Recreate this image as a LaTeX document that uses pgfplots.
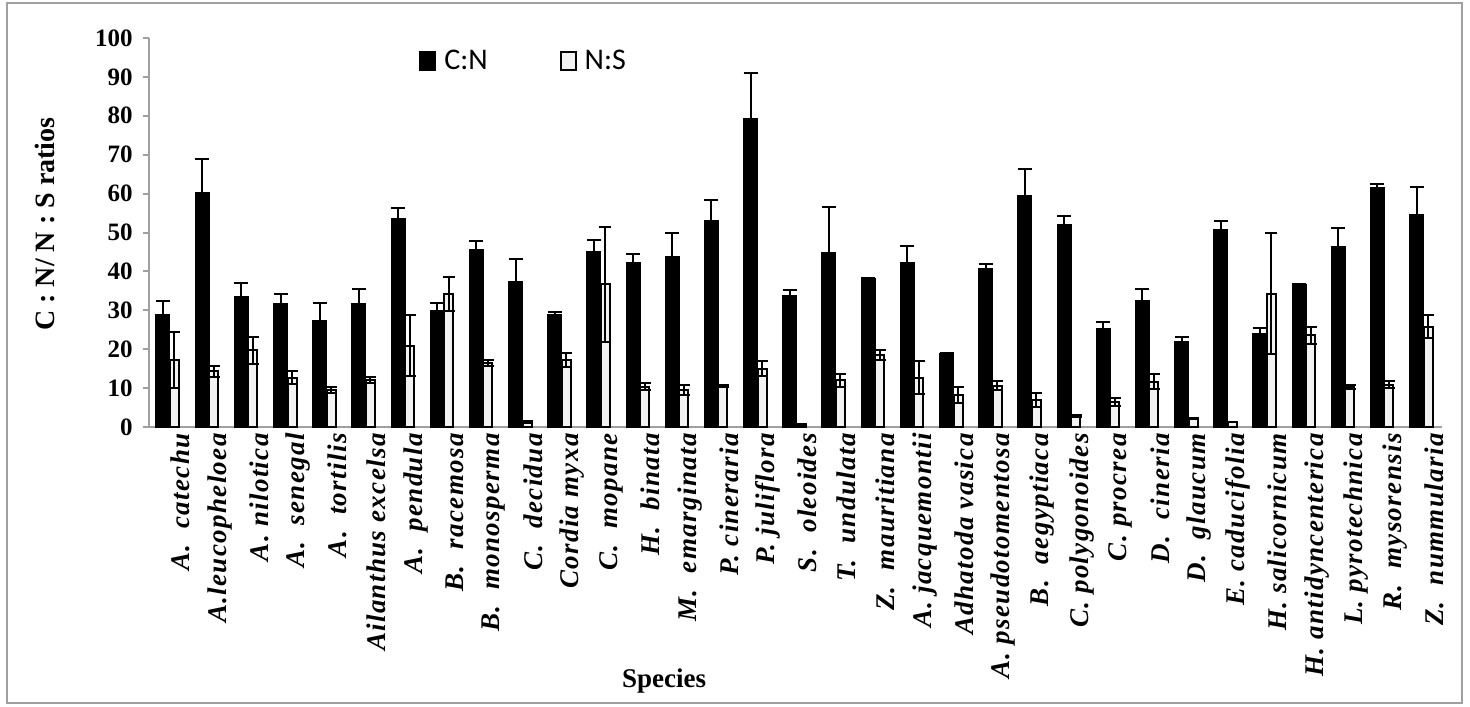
\documentclass[border=0pt]{standalone}
\usepackage{pgfplots}
\pgfplotsset{compat=1.18}
\usepackage{pgfplotstable}
\usepackage{fontspec}
\setmainfont{Liberation Serif}
\newfontfamily\calibri{Carlito}
\newfontfamily\xlabfont[LetterSpace=5]{Liberation Serif}
\definecolor{axgray}{HTML}{A0A0A0}
\definecolor{nsfill}{HTML}{F2F2F2}

\pgfplotstableread{
x cn cnerr ns nserr
0 28.8 3.6 17.2 7.3
1 60.3 8.5 14.3 1.4
2 33.6 3.3 19.7 3.4
3 31.8 2.5 12.7 1.7
4 27.3 4.5 9.6 0.8
5 31.8 3.8 12.0 0.8
6 53.6 2.8 20.9 7.9
7 30.0 1.8 34.1 4.4
8 45.7 2.2 16.5 0.8
9 37.3 5.8 1.3 0.2
10 28.8 0.8 17.2 1.9
11 45.0 3.2 36.7 14.8
12 42.4 2.1 10.3 0.9
13 43.8 6.0 9.4 1.3
14 53.2 5.2 10.5 0.2
15 79.4 11.6 15.0 2.0
16 33.7 1.5 0.6 0.1
17 44.9 11.6 12.0 1.7
18 38.3 0.1 18.5 1.3
19 42.4 4.2 12.7 4.3
20 18.9 0.1 8.2 2.1
21 40.7 1.2 10.6 1.2
22 59.5 6.8 7.0 1.8
23 52.1 2.1 2.8 0.2
24 25.2 1.7 6.4 1.0
25 32.6 3.0 11.6 1.9
26 22.1 1.0 2.1 0.1
27 50.9 2.1 1.3 0.1
28 24.0 1.5 34.3 15.5
29 36.7 0.1 23.6 2.2
30 46.4 4.8 10.3 0.5
31 61.6 0.9 10.9 0.9
32 54.7 7.1 25.8 3.0
}\datatable

\begin{document}
\begin{tikzpicture}
\begin{axis}[
  at={(74.5pt,-213.5pt)}, anchor=south west,
  scale only axis, width=646.4pt, height=194.5pt,
  xmin=-0.5, xmax=32.5, ymin=0, ymax=100,
  ytick={0,10,...,100},
  xtick={0,...,32},
  minor xtick={-0.5,0.5,...,32.5},
  xticklabels={A. \ catechu, A.leucopheloea, A. nilotica, A. \ senegal, A. \ tortilis, Ailanthus excelsa, A. \ pendula, B. \ racemosa, B. \ monosperma, C. \ decidua, Cordia myxa, C. \ mopane, H. \ binata, M. \ emarginata, P. cineraria, P. juliflora, S. \ oleoides, T. \ undulata, Z. \ mauritiana, A. jacquemontii, Adhatoda vasica, A. pseudotomentosa, B. \ aegyptiaca, C. polygonoides, C. procrea, D. \ cineria, D. \ glaucum, E. caducifolia, H. salicornicum, H. antidyncenterica, L. pyrotechnica, R. \ mysorensis, Z. \ nummularia},
  axis x line*=bottom, axis y line*=left,
  axis line style={axgray, line width=1pt, -},
  tick align=outside,
  x tick style={draw=none},
  minor x tick style={axgray, line width=1pt},
  minor tick length=3.5pt,
  y tick style={axgray, line width=1pt},
  major tick length=3pt,
  /pgf/number format/assume math mode=true,
  yticklabel style={font=\fontsize{12.5}{14}\selectfont\bfseries, inner sep=1pt, xshift=-4pt},
  xticklabel style={rotate=90, anchor=east, font=\xlabfont\fontsize{13.5}{15}\selectfont\bfseries\itshape, inner sep=0pt, yshift=-6pt},
  ybar, bar width=7pt,
  legend style={at={(0.2088,0.941)}, anchor=west, draw=none, fill=none, inner sep=0pt,
    font=\calibri\fontsize{15}{17}\selectfont,
    /tikz/every odd column/.append style={column sep=2pt},
    /tikz/every even column/.append style={column sep=34pt}},
  legend columns=2,
  clip=false,
]
\addplot+[bar shift=-2.8pt, bar width=7pt, fill=black, draw=black, line width=0.5pt,
  legend image code/.code={\draw[black, fill=black, line width=1pt] (0pt,-4.3pt) rectangle (7.5pt,4.3pt);},
  error bars/.cd, y dir=both, y explicit,
  error bar style={black, line width=1pt},
  error mark options={black, line width=1pt, mark size=3.5pt, rotate=90}]
  table[x=x, y=cn, y error=cnerr]{\datatable};
\addlegendentry{C:N}
\addplot+[bar shift=2.95pt, bar width=4.5pt, fill=nsfill, draw=black, line width=1pt,
  legend image code/.code={\draw[black, fill=nsfill, line width=1pt] (0pt,-4.3pt) rectangle (7.5pt,4.3pt);},
  error bars/.cd, y dir=both, y explicit,
  error bar style={black, line width=1pt},
  error mark options={black, line width=1pt, mark size=3pt, rotate=90}]
  table[x=x, y=ns, y error=nserr]{\datatable};
\addlegendentry{N:S}
\end{axis}
\node[rotate=90, font=\fontsize{14}{16}\selectfont\bfseries] at (22.5pt,-112pt) {C : N/ N : S ratios};
\node[font=\fontsize{13.5}{16}\selectfont\bfseries] at (332pt,-340.5pt) {Species};
\draw[axgray, line width=1pt] (3.5pt,-1.5pt) rectangle (731pt,-351.5pt);
\pgfresetboundingbox
\path[use as bounding box] (0,0) rectangle (735pt,-353pt);
\end{tikzpicture}
\end{document}
